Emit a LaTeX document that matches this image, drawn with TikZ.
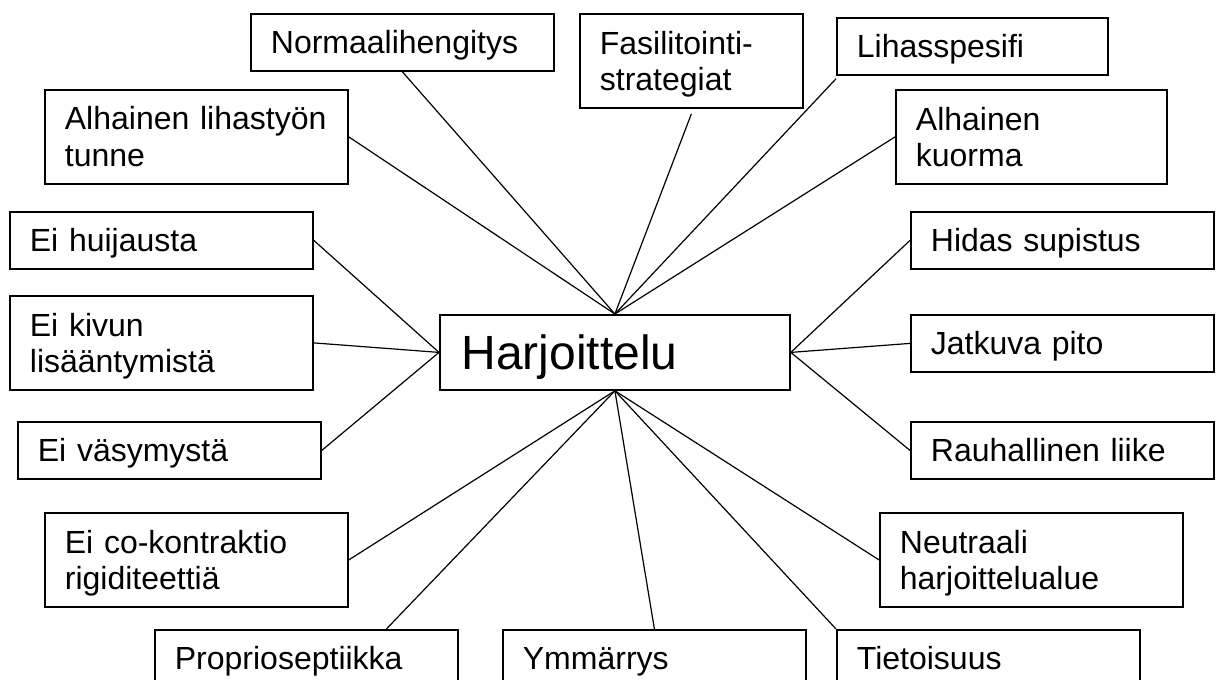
\documentclass[tikz,border=0pt]{standalone}
\usepackage{fontspec}
\setmainfont{Liberation Sans}
\newcommand{\boxstrut}{\rule[-6.5pt]{0pt}{36pt}}
\newcommand{\harjstrut}{\rule[-9.5pt]{0pt}{54pt}}

\begin{document}
\begin{tikzpicture}[x=1pt,y=-1pt,
        frame/.style={draw, line width=1.8pt, anchor=north west, align=left,
            inner ysep=0pt},
        box/.style={frame, inner xsep=20pt, text width=263pt,
            font=\fontsize{32}{36}\selectfont,
            execute at begin node=\boxstrut, execute at end node=\boxstrut},
        short/.style={minimum height=57pt},
        tall/.style={minimum height=94pt},
        link/.style={line width=1.2pt}]
        \clip (0,0) rectangle (1219,680);

        % centre
        \node[frame, text width=307pt, minimum height=75pt, inner xsep=21.5pt,
            font=\fontsize{48}{54}\selectfont,
            execute at begin node=\harjstrut] (harj) at (439,314) {Harjoittelu};

        % top row
        \node[box, short] (normaali) at (250,13) {Normaalihengitys};
        \node[box, tall, text width=183pt] (fasil) at (579,13) {Fasilitointi-\\strategiat};
        \node[box, short, text width=231pt] (lihas) at (836,17) {Lihasspesifi};
        \node[box, tall] (tunne) at (44,89) {Alhainen lihastyön\\tunne};
        \node[box, tall, text width=231pt] (kuorma) at (895,89) {Alhainen\\kuorma};

        % left side
        \node[box, short] (huijaus) at (9,211) {Ei huijausta};
        \node[box, tall] (kipu) at (9,295) {Ei kivun\\lisääntymistä};
        \node[box, short] (vasymys) at (17,421) {Ei väsymystä};
        \node[box, tall] (cokon) at (44,512) {Ei co-kontraktio\\rigiditeettiä};

        % right side
        \node[box, short] (hidas) at (910,211) {Hidas supistus};
        \node[box, short] (pito) at (910,314) {Jatkuva pito};
        \node[box, short] (rauha) at (910,421) {Rauhallinen liike};
        \node[box, tall] (neutraali) at (879,512) {Neutraali\\harjoittelualue};

        % bottom row
        \node[box, short] (proprio) at (154,629) {Proprioseptiikka};
        \node[box, short] (ymm) at (502,629) {Ymmärrys};
        \node[box, short] (tieto) at (836,629) {Tietoisuus};

        % connectors
        \draw[link] (normaali.south) -- (harj.north);
        \draw[link] ([yshift=-5pt]fasil.south) -- (harj.north);
        \draw[link] ([yshift=-3pt]lihas.south west) -- (harj.north);
        \draw[link] (tunne.east) -- (harj.north);
        \draw[link] (kuorma.west) -- (harj.north);
        \draw[link] (huijaus.east) -- (harj.west);
        \draw[link] (kipu.east) -- (harj.west);
        \draw[link] (vasymys.east) -- (harj.west);
        \draw[link] (hidas.west) -- (harj.east);
        \draw[link] (pito.west) -- (harj.east);
        \draw[link] (rauha.west) -- (harj.east);
        \draw[link] (cokon.east) -- (harj.south);
        \draw[link] ([xshift=80pt]proprio.north) -- (harj.south);
        \draw[link] (ymm.north) -- (harj.south);
        \draw[link] (tieto.north west) -- (harj.south);
        \draw[link] (neutraali.west) -- (harj.south);
\end{tikzpicture}
\end{document}
